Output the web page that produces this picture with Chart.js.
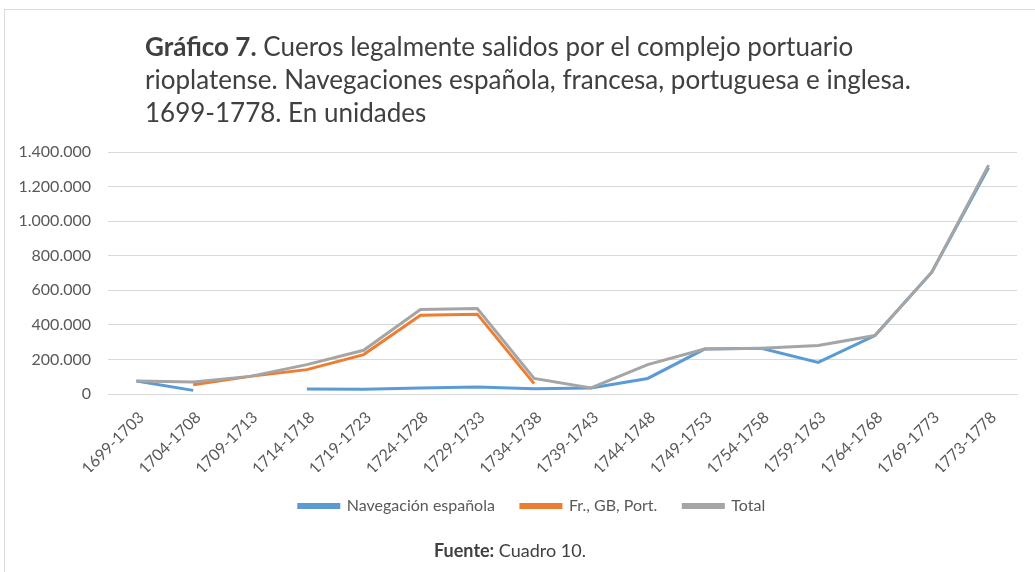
<!DOCTYPE html>
<html lang="es">
<head>
<meta charset="utf-8">
<script src="https://cdn.jsdelivr.net/npm/chart.js@4"></script>
<style>
  html, body { margin: 0; padding: 0; background: #fff; }
  #wrap { position: relative; width: 1035px; height: 572px; overflow: hidden; }
  #frame { position: absolute; left: 4px; top: 9px; right: -2px; bottom: -2px;
           border-top: 1px solid #d9d9d9; border-left: 1px solid #d9d9d9; }
  #title { position: absolute; left: 145px; top: 30px; width: 880px;
           font-family: Lato, "Open Sans", sans-serif; font-size: 26px; line-height: 33px; color: #404040; }
  #source { position: absolute; left: 0; width: 1020px; top: 539px; text-align: center;
            font-family: Lato, "Open Sans", sans-serif; font-size: 18px; color: #404040; }
  canvas { position: absolute; left: 0; top: 0; }
</style>
</head>
<body>
<div id="wrap">
  <div id="frame"></div>
  <canvas id="chart" width="1035" height="572"></canvas>
  <div id="title"><b>Gráfico 7.</b> Cueros legalmente salidos por el complejo portuario<br>rioplatense. Navegaciones española, francesa, portuguesa e inglesa.<br>1699-1778. En unidades</div>
  <div id="source"><b>Fuente:</b> Cuadro 10.</div>
</div>
<script>
"use strict";

const periods = [
  "1699-1703", "1704-1708", "1709-1713", "1714-1718", "1719-1723", "1724-1728",
  "1729-1733", "1734-1738", "1739-1743", "1744-1748", "1749-1753", "1754-1758",
  "1759-1763", "1764-1768", "1769-1773", "1773-1778"
];

const navEspanola = [
  75000, 21000, null, 29000, 28000, 34000, 40000, 30000,
  35000, 90000, 260000, 264000, 183000, 338000, 705000, 1310000
];

const frGbPort = [
  null, 54000, 102000, 141000, 228000, 456000, 462000, 60000,
  null, null, null, null, null, null, null, null
];

const total = [
  75000, 70000, 102000, 170000, 253000, 489000, 495000, 90000,
  35000, 170000, 260000, 264000, 280000, 338000, 705000, 1324000
];

const yTicks = [0, 200000, 400000, 600000, 800000, 1000000, 1200000, 1400000];

const fontFamily = "Lato, 'Open Sans', sans-serif";

function fmt(v) {
  return v.toString().replace(/\B(?=(\d{3})+(?!\d))/g, ".");
}

function line(label, data, color, order) {
  return {
    label,
    data,
    order,
    borderColor: color,
    backgroundColor: color,
    borderWidth: 3,
    pointRadius: 0,
    tension: 0,
    spanGaps: false
  };
}

// nudge the legend a bit to the right, like the original
const legendShift = {
  id: "legendShift",
  afterLayout(chart) {
    chart.legend.left += 14;
    chart.legend.right += 14;
  }
};

new Chart(document.getElementById("chart"), {
  type: "line",
  data: {
    labels: periods,
    datasets: [
      line("Navegación española", navEspanola, "#5b9bd5", 2),
      line("Fr., GB, Port.", frGbPort, "#ed7d31", 1),
      line("Total", total, "#a5a5a5", 0)
    ]
  },
  options: {
    responsive: false,
    animation: false,
    layout: { padding: { top: 152, left: 19, right: 18, bottom: 48 } },
    plugins: {
      title: { display: false },
      tooltip: { enabled: false },
      legend: {
        position: "bottom",
        labels: {
          boxWidth: 40,
          boxHeight: 3,
          padding: 26,
          color: "#595959",
          font: { family: fontFamily, size: 16 },
          sort: (a, b) => a.datasetIndex - b.datasetIndex
        }
      }
    },
    scales: {
      x: {
        offset: true,
        grid: { display: false, drawTicks: false },
        border: { color: "#d9d9d9" },
        ticks: {
          maxRotation: 45,
          minRotation: 45,
          autoSkip: false,
          padding: 14,
          labelOffset: 5,
          color: "#595959",
          font: { family: fontFamily, size: 16 }
        },
        afterFit: axis => {
          axis.paddingLeft = 0;
          axis.paddingRight = 0;
          axis.height = 78;
        }
      },
      y: {
        min: 0,
        max: 1400000,
        afterBuildTicks: axis => { axis.ticks = yTicks.map(v => ({ value: v })); },
        afterFit: axis => { axis.width = 89; },
        grid: { color: "#d9d9d9", drawTicks: false },
        border: { display: false },
        ticks: {
          padding: 17,
          color: "#595959",
          font: { family: fontFamily, size: 16 },
          callback: v => fmt(v)
        }
      }
    }
  },
  plugins: [legendShift]
});
</script>
</body>
</html>
